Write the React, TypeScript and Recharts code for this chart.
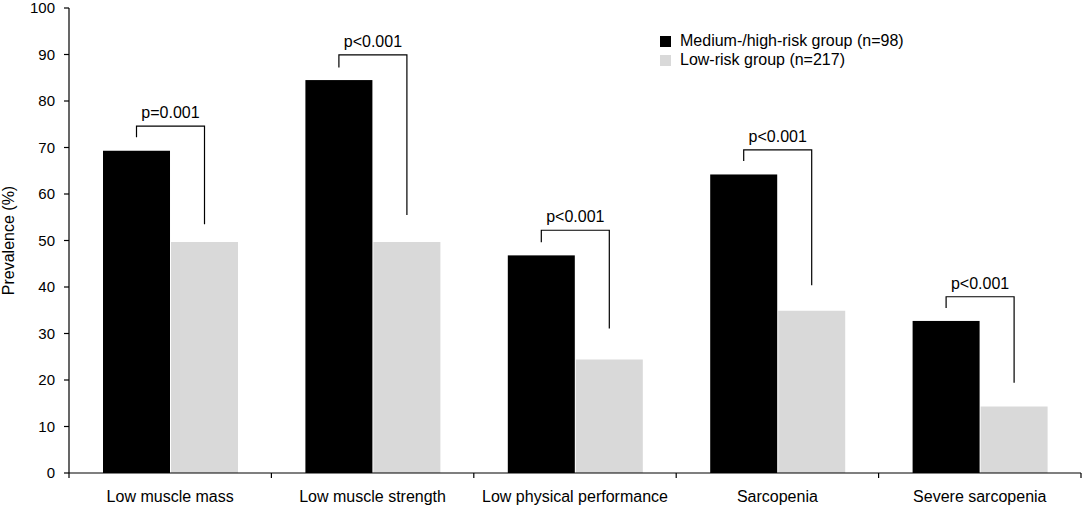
import React from 'react';
import { BarChart, Bar, XAxis, YAxis, Legend } from 'recharts';

const categories = ['Low muscle mass', 'Low muscle strength', 'Low physical performance', 'Sarcopenia', 'Severe sarcopenia'];
const highRisk = [69.3, 84.5, 46.8, 64.2, 32.7];
const lowRisk = [49.7, 49.7, 24.4, 34.9, 14.3];
const bracketTop = [74.6, 89.9, 52.2, 69.5, 37.9];
const bracketLeftEnd = [72.2, 87.2, 49.6, 67.1, 35.5];
const bracketRightEnd = [53.5, 55.5, 31.1, 40.4, 19.4];
const pLabels = ['p=0.001', 'p<0.001', 'p<0.001', 'p<0.001', 'p<0.001'];
const yTicks = [0, 10, 20, 30, 40, 50, 60, 70, 80, 90, 100];
const seriesNames = ['Medium-/high-risk group (n=98)', 'Low-risk group (n=217)'];

const FONT = '"Liberation Sans", Arial, Helvetica, sans-serif';
const BAR_GAP = 1;

const data = categories.map((c, i) => ({
  name: c,
  high: highRisk[i],
  low: lowRisk[i],
  top: bracketTop[i],
  leftEnd: bracketLeftEnd[i],
  rightEnd: bracketRightEnd[i],
  p: pLabels[i],
}));

const HighBarShape = (props: any) => {
  const { x, y, width, height, payload } = props;
  const value = payload.high;
  const bottom = y + height;
  const ppu = value > 0 ? height / value : 0;
  const yp = (v: number) => bottom - v * ppu;
  const lx = x + width / 2;
  const rx = x + width + BAR_GAP + width / 2;
  const ty = yp(payload.top);
  return (
    <g>
      <rect x={x} y={y} width={width} height={height} fill="#000000" />
      <path
        d={`M${lx},${yp(payload.leftEnd)} L${lx},${ty} L${rx},${ty} L${rx},${yp(payload.rightEnd)}`}
        fill="none"
        stroke="#000"
        strokeWidth={1.2}
      />
      <text x={(lx + rx) / 2} y={ty - 8} textAnchor="middle" fontSize={16} fontFamily={FONT} fill="#000">
        {payload.p}
      </text>
    </g>
  );
};

const CatTick = (props: any) => {
  const { x, y, payload, index, width, visibleTicksCount } = props;
  const half = payload && payload.offset ? payload.offset : (width && visibleTicksCount ? width / visibleTicksCount / 2 : 101.2);
  return (
    <g>
      {index === 0 && <line x1={x - half} y1={y} x2={x - half} y2={y + 5} stroke="#000" strokeWidth={1.2} />}
      <line x1={x + half} y1={y} x2={x + half} y2={y + 5} stroke="#000" strokeWidth={1.2} />
      <text x={x} y={y + 29} textAnchor="middle" fontSize={16} fontFamily={FONT} fill="#000">
        {payload.value}
      </text>
    </g>
  );
};

const YLabel = (props: any) => {
  const vb = props.viewBox || { x: 0, y: 8, width: 69, height: 465 };
  const cx = vb.x + 14;
  const cy = vb.y + vb.height / 2;
  return (
    <text x={cx} y={cy} transform={`rotate(-90, ${cx}, ${cy})`} textAnchor="middle" fontSize={16} fontFamily={FONT} fill="#000">
      Prevalence (%)
    </text>
  );
};

const LegendContent = (props: any) => {
  const payload = props.payload || [];
  const ordered = seriesNames
    .map((n) => payload.find((p: any) => p.value === n))
    .filter(Boolean);
  return (
    <div style={{ fontFamily: FONT, fontSize: 16, color: '#000' }}>
      {ordered.map((p: any, i: number) => (
        <div key={i} style={{ display: 'flex', alignItems: 'center', height: 19, whiteSpace: 'nowrap' }}>
          <span style={{ display: 'inline-block', width: 11, height: 11, background: p.color, marginRight: 9 }} />
          <span>{p.value}</span>
        </div>
      ))}
    </div>
  );
};

export default function App() {
  return (
    <div style={{ position: 'absolute', left: 0, top: 0, width: 1084, height: 508, background: '#fff' }}>
      <BarChart
        width={1084}
        height={508}
        data={data}
        margin={{ top: 8, right: 3, bottom: 0, left: 0 }}
        barCategoryGap="16.8%"
        barGap={BAR_GAP}
      >
        <XAxis
          dataKey="name"
          height={35}
          axisLine={{ stroke: '#000', strokeWidth: 1.2 }}
          tickLine={false}
          tickSize={0}
          tickMargin={0}
          tick={<CatTick />}
          interval={0}
        />
        <YAxis
          width={69}
          domain={[0, 100]}
          ticks={yTicks}
          interval={0}
          axisLine={{ stroke: '#000', strokeWidth: 1.2 }}
          tickLine={{ stroke: '#000', strokeWidth: 1.2 }}
          tickSize={5}
          tickMargin={9}
          tick={{ fontSize: 15, fontFamily: FONT, fill: '#000' }}
          label={<YLabel />}
        />
        <Legend
          layout="horizontal"
          verticalAlign="middle"
          align="center"
          content={<LegendContent />}
          wrapperStyle={{ left: 660, top: 31.5, width: 320, height: 40 }}
        />
        <Bar dataKey="high" name={seriesNames[0]} fill="#000000" isAnimationActive={false} shape={<HighBarShape />} />
        <Bar dataKey="low" name={seriesNames[1]} fill="#d9d9d9" isAnimationActive={false} />
      </BarChart>
    </div>
  );
}
